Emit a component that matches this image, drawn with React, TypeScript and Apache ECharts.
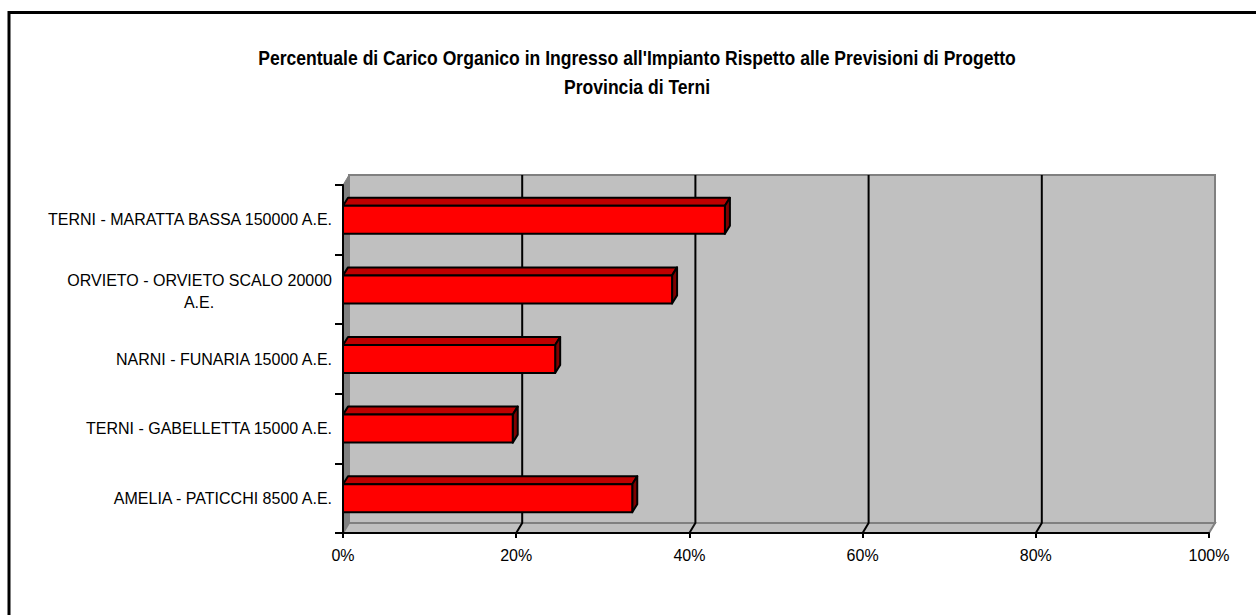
import React, { useEffect, useRef } from "react";
import * as echarts from "echarts";

const titleLines = [
  "Percentuale di Carico Organico in Ingresso all'Impianto Rispetto alle Previsioni di Progetto",
  "Provincia di Terni",
];
const categories = [
  "TERNI - MARATTA BASSA 150000 A.E.",
  "ORVIETO - ORVIETO SCALO 20000|A.E.",
  "NARNI - FUNARIA 15000 A.E.",
  "TERNI - GABELLETTA 15000 A.E.",
  "AMELIA - PATICCHI 8500 A.E.",
];
const values = [44.1, 38.0, 24.5, 19.6, 33.4];
const ticks = [0, 20, 40, 60, 80, 100];

const DX = 6;
const DY = 10;
const BAR_DX = 5;
const BAR_DY = 8;
const BAR_H = 28;
const FONT = "'Liberation Sans', Arial, sans-serif";

export default function App() {
  const ref = useRef<HTMLDivElement>(null);
  useEffect(() => {
    const chart = echarts.init(ref.current!, null, { renderer: "svg" });
    chart.setOption({
      animation: false,
      backgroundColor: "#ffffff",
      graphic: [
        {
          type: "polyline",
          shape: { points: [[9, 615], [9, 12.5], [1256, 12.5]] },
          style: { stroke: "#000000", lineWidth: 3, fill: "none" },
        },
        {
          type: "text",
          x: 637,
          y: 58,
          scaleX: 0.879,
          style: {
            text: titleLines[0],
            x: 0,
            y: 0,
            align: "center",
            verticalAlign: "middle",
            font: `bold 20px ${FONT}`,
            fill: "#000000",
          },
        },
        {
          type: "text",
          x: 637,
          y: 87,
          scaleX: 0.879,
          style: {
            text: titleLines[1],
            x: 0,
            y: 0,
            align: "center",
            verticalAlign: "middle",
            font: `bold 20px ${FONT}`,
            fill: "#000000",
          },
        },
      ],
      grid: { left: 343, top: 185, width: 866, height: 348, containLabel: false },
      xAxis: {
        type: "value",
        min: 0,
        max: 100,
        interval: 20,
        z: 2,
        axisLine: { show: true, lineStyle: { color: "#000000", width: 2 } },
        axisTick: { show: true, length: 5, lineStyle: { color: "#000000", width: 2 } },
        axisLabel: {
          formatter: "{value}%",
          color: "#000000",
          fontFamily: FONT,
          fontSize: 16,
          margin: 14,
          hideOverlap: false,
        },
        splitLine: { show: false },
      },
      yAxis: {
        type: "category",
        inverse: true,
        data: categories,
        z: 2,
        axisLine: { show: true, lineStyle: { color: "#000000", width: 2 } },
        axisTick: { show: true, length: 8, lineStyle: { color: "#000000", width: 2 } },
        axisLabel: {
          margin: 11,
          color: "#000000",
          fontFamily: FONT,
          fontSize: 16,
          formatter: (v: string) => {
            const p = v.split("|");
            return p.length > 1 ? `{a|${p[0]}}\n{c|${p[1]}}` : v;
          },
          rich: {
            a: { fontFamily: FONT, fontSize: 16, color: "#000000", lineHeight: 24, padding: [6, 0, 0, 0] },
            c: { fontFamily: FONT, fontSize: 16, color: "#000000", lineHeight: 24, width: 266, align: "center", padding: [2, 0, 0, 0] },
          },
        },
      },
      series: [
        {
          type: "custom",
          name: "walls",
          z: 1,
          silent: true,
          data: [[0, 0]],
          encode: { x: 0, y: 1 },
          renderItem: (params: any) => {
            const c = params.coordSys;
            const l = c.x, r = c.x + c.width, t = c.y, b = c.y + c.height;
            return {
              type: "group",
              children: [
                {
                  type: "polygon",
                  shape: { points: [[l, t], [l + DX, t - DY], [l + DX, b - DY], [l, b]] },
                  style: { fill: "#808080", stroke: "#808080", lineWidth: 1 },
                },
                {
                  type: "polygon",
                  shape: { points: [[l, b], [r, b], [r + DX, b - DY], [l + DX, b - DY]] },
                  style: { fill: "#c0c0c0", stroke: "#808080", lineWidth: 2 },
                },
                {
                  type: "rect",
                  shape: { x: l + DX, y: t - DY, width: c.width, height: c.height },
                  style: { fill: "#c0c0c0", stroke: "#808080", lineWidth: 2 },
                },
              ],
            };
          },
        },
        {
          type: "custom",
          name: "grid",
          z: 1,
          silent: true,
          data: ticks.slice(1, 5).map((t) => [t, 0]),
          encode: { x: 0, y: 1 },
          renderItem: (params: any, api: any) => {
            const c = params.coordSys;
            const x = api.coord([api.value(0), 0])[0];
            const t = c.y, b = c.y + c.height;
            return {
              type: "polyline",
              shape: { points: [[x, b], [x + DX, b - DY], [x + DX, t - DY]] },
              style: { stroke: "#000000", lineWidth: 2, fill: "none" },
            };
          },
        },
        {
          type: "custom",
          name: "Carico",
          z: 3,
          data: values.map((v, i) => [v, i]),
          encode: { x: 0, y: 1 },
          renderItem: (params: any, api: any) => {
            const p = api.coord([api.value(0), api.value(1)]);
            const l = params.coordSys.x;
            const r = p[0];
            const t = p[1] - BAR_H / 2;
            const b = t + BAR_H;
            const line = { stroke: "#000000", lineWidth: 2, lineJoin: "round" };
            return {
              type: "group",
              children: [
                {
                  type: "polygon",
                  shape: { points: [[l, t], [l + BAR_DX, t - BAR_DY], [r + BAR_DX, t - BAR_DY], [r, t]] },
                  style: { fill: "#bf0000", ...line },
                },
                {
                  type: "polygon",
                  shape: { points: [[r, t], [r + BAR_DX, t - BAR_DY], [r + BAR_DX, b - BAR_DY], [r, b]] },
                  style: { fill: "#800000", ...line },
                },
                {
                  type: "rect",
                  shape: { x: l, y: t, width: r - l, height: BAR_H },
                  style: { fill: "#ff0000", ...line },
                },
              ],
            };
          },
        },
      ],
    });
    return () => chart.dispose();
  }, []);
  return <div ref={ref} style={{ position: "fixed", left: 0, top: 0, width: 1256, height: 615 }} />;
}
